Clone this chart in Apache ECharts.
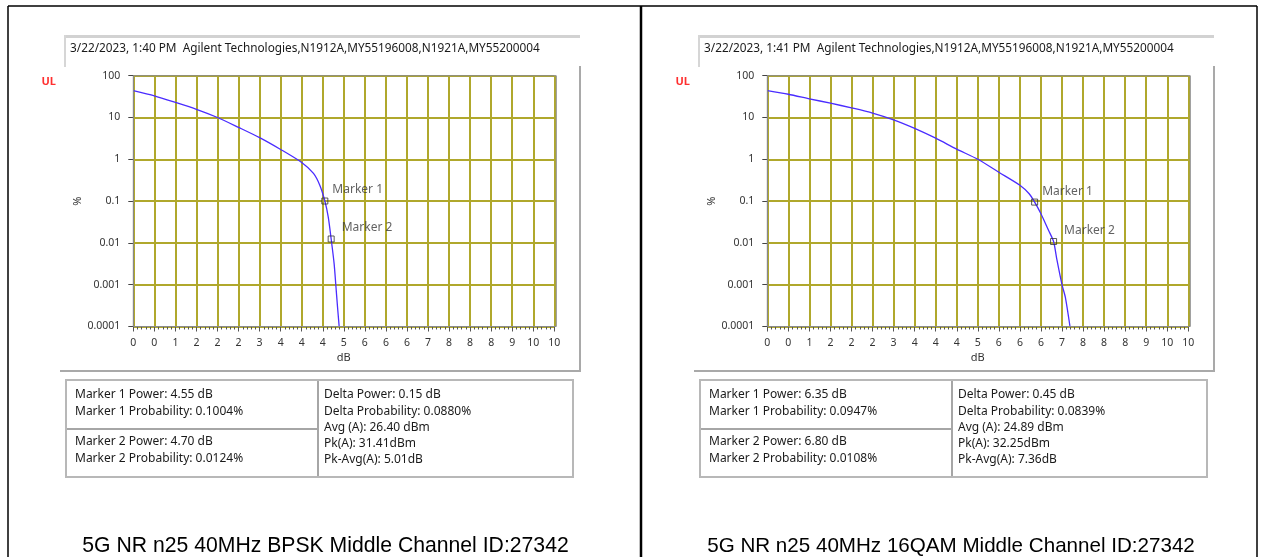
<!DOCTYPE html>
<html><head><meta charset="utf-8">
<script src="https://cdn.jsdelivr.net/npm/echarts@6/dist/echarts.min.js"></script>
<style>html,body{margin:0;padding:0;background:#fff}#c{width:1273px;height:557px}</style>
</head><body><div id="c"></div>
<script>
// ---------- data ----------
const xTickLabels = ['0','0','1','2','2','2','3','4','4','4','5','6','6','6','7','8','8','8','9','10','10'];
const yTickLabels = ['0.0001','0.001','0.01','0.1','1','10','100'];

const bpskPower = [0, 0.5, 1, 1.5, 2, 2.5, 3, 3.5, 4, 4.28, 4.43, 4.55, 4.63, 4.70, 4.77, 4.81, 4.85, 4.89];
const bpskProb  = [44, 33, 23, 15.7, 10, 5.8, 3.3, 1.72, 0.84, 0.46, 0.24, 0.1004, 0.042, 0.0124, 0.0032, 0.001, 0.0003, 0.0001];

const qamPower = [0, 0.5, 1, 1.5, 2, 2.5, 3, 3.5, 4, 4.5, 5, 5.5, 6, 6.22, 6.35, 6.5, 6.68, 6.80, 6.88, 7.0, 7.08, 7.19];
const qamProb  = [44, 36, 28, 22, 17, 12.8, 8.8, 5.5, 3.2, 1.75, 1.0, 0.49, 0.24, 0.15, 0.0947, 0.05, 0.02, 0.0108, 0.0039, 0.001, 0.0005, 0.0001];

const markerNames = ['Marker 1', 'Marker 2'];
const bpskMarkerPower = [4.55, 4.70];
const bpskMarkerProb  = [0.1004, 0.0124];
const qamMarkerPower  = [6.35, 6.80];
const qamMarkerProb   = [0.0947, 0.0108];

const headerTexts = [
  '3/22/2023, 1:40 PM  Agilent Technologies,N1912A,MY55196008,N1921A,MY55200004',
  '3/22/2023, 1:41 PM  Agilent Technologies,N1912A,MY55196008,N1921A,MY55200004'
];
const captions = [
  '5G NR n25 40MHz BPSK Middle Channel ID:27342',
  '5G NR n25 40MHz 16QAM Middle Channel ID:27342'
];
const bpskMarker1Lines = ['Marker 1 Power: 4.55 dB', 'Marker 1 Probability: 0.1004%'];
const bpskMarker2Lines = ['Marker 2 Power: 4.70 dB', 'Marker 2 Probability: 0.0124%'];
const bpskStatLines = ['Delta Power: 0.15 dB', 'Delta Probability: 0.0880%', 'Avg (A): 26.40 dBm', 'Pk(A): 31.41dBm', 'Pk-Avg(A): 5.01dB'];
const qamMarker1Lines = ['Marker 1 Power: 6.35 dB', 'Marker 1 Probability: 0.0947%'];
const qamMarker2Lines = ['Marker 2 Power: 6.80 dB', 'Marker 2 Probability: 0.0108%'];
const qamStatLines = ['Delta Power: 0.45 dB', 'Delta Probability: 0.0839%', 'Avg (A): 24.89 dBm', 'Pk(A): 32.25dBm', 'Pk-Avg(A): 7.36dB'];

// ---------- layout ----------
const DX = 634;
const BORDER_L = 8, BORDER_T = 6, BORDER_M = 641, BORDER_R = 1257;
const PLOT = { left: 133.3, top: 75.7, width: 421, height: 250.8 };
const GRID_COLOR = '#b0a82c';
const UI_FONT = '"Noto Sans", "Open Sans", sans-serif';

function zip(a, b) { return a.map((v, i) => [v, b[i]]); }

function makeAxes(idx) {
  const x = {
    type: 'value', gridIndex: idx, min: 0, max: 10, interval: 0.5,
    name: 'dB', nameLocation: 'middle', nameGap: 26,
    nameTextStyle: { color: '#333', fontSize: 11, fontFamily: UI_FONT },
    axisLine: { show: true, lineStyle: { color: '#808080', width: 1 } },
    axisTick: { show: true, length: 5, lineStyle: { color: '#555' } },
    minorTick: { show: true, splitNumber: 5, length: 3, lineStyle: { color: '#555' } },
    axisLabel: {
      show: true, interval: 0, hideOverlap: false, margin: 11,
      color: '#333', fontSize: 10.5, fontFamily: UI_FONT,
      formatter: v => xTickLabels[Math.round(v / 0.5)]
    },
    splitLine: { show: true, lineStyle: { color: GRID_COLOR, width: 2 } }
  };
  const y = {
    type: 'log', logBase: 10, gridIndex: idx, min: 0.0001, max: 100, splitNumber: 6,
    name: '%', nameLocation: 'middle', nameGap: 50, nameRotate: 90,
    nameTextStyle: { color: '#333', fontSize: 11, fontFamily: UI_FONT },
    axisLine: { show: true, lineStyle: { color: '#808080', width: 1 } },
    axisTick: { show: true, length: 5, lineStyle: { color: '#444' } },
    axisLabel: {
      show: true, margin: 13, color: '#333', fontSize: 10.5, fontFamily: UI_FONT,
      formatter: v => yTickLabels[Math.round(Math.log10(v)) + 4]
    },
    splitLine: { show: true, lineStyle: { color: GRID_COLOR, width: 2 } }
  };
  return { x, y };
}

function curveSeries(idx, xs, ys) {
  return {
    type: 'line', xAxisIndex: idx, yAxisIndex: idx, data: zip(xs, ys),
    showSymbol: false, smooth: 0.25, z: 5,
    lineStyle: { color: '#4a2cff', width: 1.3 }
  };
}
function markerSeries(idx, xs, ys) {
  return {
    type: 'scatter', xAxisIndex: idx, yAxisIndex: idx, z: 6,
    data: xs.map((v, i) => ({ value: [v, ys[i]], name: markerNames[i],
      label: { offset: i === 0 ? [0, -11] : [3, -11] } })),
    symbol: 'rect', symbolSize: 6,
    itemStyle: { color: 'rgba(255,255,255,0)', borderColor: '#333', borderWidth: 1 },
    label: {
      show: true, position: 'right', distance: 4,
      formatter: p => p.name, color: '#3a3a3a', fontSize: 12, fontFamily: UI_FONT
    }
  };
}

function textEl(x, y, text, extra) {
  return Object.assign({ type: 'text', x, y, z: 60,
    style: Object.assign({ text, font: '12px ' + UI_FONT, fill: '#1a1a1a', verticalAlign: 'middle' }, extra || {}) });
}
function lineEl(x1, y1, x2, y2, color, w) {
  return { type: 'line', z: 60, shape: { x1, y1, x2, y2 }, style: { stroke: color, lineWidth: w } };
}

function panelGraphics(p, dx) {
  const g = [];
  // header bevel box
  g.push({ type: 'rect', z: 55, shape: { x: 64 + dx, y: 35, width: 516, height: 3 }, style: { fill: '#d2d2d2' } });
  g.push({ type: 'rect', z: 55, shape: { x: 64 + dx, y: 35, width: 2, height: 32 }, style: { fill: '#d6d6d6' } });
  g.push(textEl(70 + dx, 49, headerTexts[p], { font: '11.8px ' + UI_FONT, fill: '#1a1a1a' }));
  g.push(textEl(41.5 + dx, 82, 'UL', { font: 'bold 11px ' + UI_FONT, fill: '#ff3030' }));
  // panel frame
  g.push(lineEl(580 + dx, 66, 580 + dx, 372, '#a9a9a9', 2));
  g.push(lineEl(60 + dx, 371, 580 + dx, 371, '#a9a9a9', 2));
  // plot frame
  g.push({ type: 'rect', z: 50, shape: { x: PLOT.left + dx, y: PLOT.top, width: PLOT.width + 2, height: PLOT.height },
    style: { fill: 'none', stroke: '#8a8a8a', lineWidth: 1 } });
  // table
  g.push({ type: 'rect', z: 55, shape: { x: 66 + dx, y: 380, width: 507, height: 97 },
    style: { fill: 'none', stroke: '#b8b8b8', lineWidth: 2 } });
  g.push(lineEl(318 + dx, 381, 318 + dx, 476, '#a6a6a6', 2));
  g.push(lineEl(67 + dx, 429, 318 + dx, 429, '#a6a6a6', 2));
  const m1 = p === 0 ? bpskMarker1Lines : qamMarker1Lines;
  const m2 = p === 0 ? bpskMarker2Lines : qamMarker2Lines;
  const st = p === 0 ? bpskStatLines : qamStatLines;
  g.push(textEl(75 + dx, 395, m1[0]));
  g.push(textEl(75 + dx, 412, m1[1]));
  g.push(textEl(75 + dx, 442, m2[0]));
  g.push(textEl(75 + dx, 459, m2[1]));
  const ry = [395, 411.5, 427.5, 444, 460];
  st.forEach((t, i) => g.push(textEl(324 + dx, ry[i], t)));
  // caption
  const cx = p === 0 ? (BORDER_L + BORDER_M) / 2 + 1 : (BORDER_M + BORDER_R) / 2 + 2;
  const fs = p === 0 ? 21.2 : 20.6;
  g.push(textEl(cx, 546, captions[p], { font: fs + 'px "Liberation Sans", Arial, sans-serif', fill: '#000', align: 'center' }));
  return g;
}

const a0 = makeAxes(0), a1 = makeAxes(1);
const graphics = [].concat(
  panelGraphics(0, 0), panelGraphics(1, DX),
  [lineEl(BORDER_L, BORDER_T, BORDER_R, BORDER_T, '#000', 1.5), lineEl(BORDER_L, BORDER_T, BORDER_L, 557, '#000', 1.5),
   lineEl(BORDER_M, BORDER_T, BORDER_M, 557, '#000', 2.5), lineEl(BORDER_R, BORDER_T, BORDER_R, 557, '#000', 1.5)]
);

const chart = echarts.init(document.getElementById('c'), null, { renderer: 'canvas' });
chart.setOption({
  animation: false,
  backgroundColor: '#fff',
  grid: [
    { left: PLOT.left, top: PLOT.top, width: PLOT.width, height: PLOT.height },
    { left: PLOT.left + DX, top: PLOT.top, width: PLOT.width, height: PLOT.height }
  ],
  xAxis: [a0.x, a1.x],
  yAxis: [a0.y, a1.y],
  series: [
    curveSeries(0, bpskPower, bpskProb), markerSeries(0, bpskMarkerPower, bpskMarkerProb),
    curveSeries(1, qamPower, qamProb), markerSeries(1, qamMarkerPower, qamMarkerProb)
  ],
  graphic: { elements: graphics }
});
</script></body></html>
